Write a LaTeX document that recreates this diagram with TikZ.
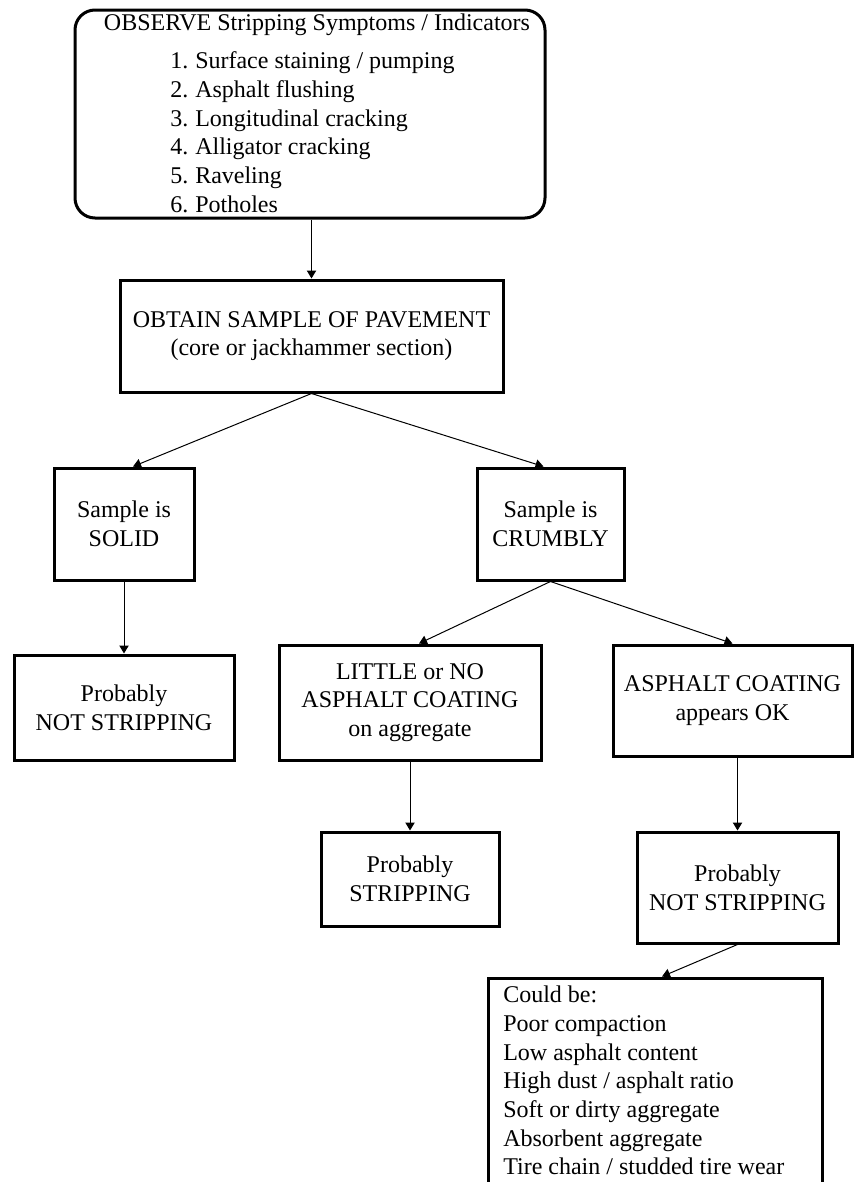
\documentclass[tikz,border=0pt]{standalone}
\usepackage{fontspec}
\setmainfont{Liberation Serif}
\usetikzlibrary{arrows.meta,calc}
\begin{document}
\begin{tikzpicture}[x=0.75pt,y=-0.75pt,
  every node/.style={font=\fontsize{18}{21.5}\selectfont},
  box/.style={draw, line width=2.25pt, inner sep=0pt, align=center},
  arr/.style={line width=0.75pt, -{Triangle[length=6pt,width=7pt]}},
  txt/.style={inner sep=0pt}]
\clip (0,0) rectangle (854,1182);
\fill[white] (0,0) rectangle (854,1182);
% boxes
\node[box, rounded corners=15pt, minimum width=352.5pt, minimum height=156pt] (observe) at (310,114) {};
\node[txt] (obstitle) at (317,25) {OBSERVE Stripping Symptoms / Indicators};
\node[txt, anchor=north west, align=left] (obslist) at (170,51.5)
  {\makebox[18.75pt][l]{1.}Surface staining / pumping\\
   \makebox[18.75pt][l]{2.}Asphalt flushing\\
   \makebox[18.75pt][l]{3.}Longitudinal cracking\\
   \makebox[18.75pt][l]{4.}Alligator cracking\\
   \makebox[18.75pt][l]{5.}Raveling\\
   \makebox[18.75pt][l]{6.}Potholes};
\node[box, minimum width=287.25pt, minimum height=84pt] (obtain) at (311.5,336)
  {OBTAIN SAMPLE OF PAVEMENT\\(core or jackhammer section)};
\node[box, minimum width=105pt, minimum height=84pt] (solid) at (124,524)
  {Sample is\\SOLID};
\node[box, minimum width=110.25pt, minimum height=84pt] (crumbly) at (550.5,524)
  {Sample is\\CRUMBLY};
\node[box, minimum width=165pt, minimum height=78.75pt] (ns1) at (124,707.5)
  {Probably\\NOT STRIPPING};
\node[box, minimum width=196.5pt, minimum height=86.25pt] (little) at (410,702.5)
  {LITTLE or NO\\ASPHALT COATING\\on aggregate};
\node[box, minimum width=179.25pt, minimum height=83.25pt] (ok) at (732.5,700.5)
  {ASPHALT COATING\\appears OK};
\node[box, minimum width=133.5pt, minimum height=70.5pt] (strip) at (410,879)
  {Probably\\STRIPPING};
\node[box, minimum width=150.75pt, minimum height=83.25pt] (ns2) at (737.5,887.5)
  {Probably\\NOT STRIPPING};
\node[box, minimum width=250.5pt, minimum height=181.5pt] (could) at (655,1099) {};
\node[txt, anchor=north west, align=left] (couldtext) at (503,986)
  {Could be:\\Poor compaction\\Low asphalt content\\High dust / asphalt ratio\\Soft or dirty aggregate\\Absorbent aggregate\\Tire chain / studded tire wear};
% connectors
\draw[arr] (obtain.north |- observe.south) -- (obtain.north);
\draw[arr] (obtain.south) -- ([xshift=6.75pt]solid.north);
\draw[arr] (obtain.south) -- ([xshift=-5.25pt]crumbly.north);
\draw[arr] (solid.south) -- (ns1.north);
\draw[arr] (crumbly.south) -- ([xshift=6.75pt]little.north);
\draw[arr] (crumbly.south) -- (ok.north);
\draw[arr] (little.south) -- (strip.north);
\draw[arr] (ns2.north |- ok.south) -- (ns2.north);
\draw[arr] (ns2.south) -- ([xshift=5.25pt]could.north);
\end{tikzpicture}
\end{document}
